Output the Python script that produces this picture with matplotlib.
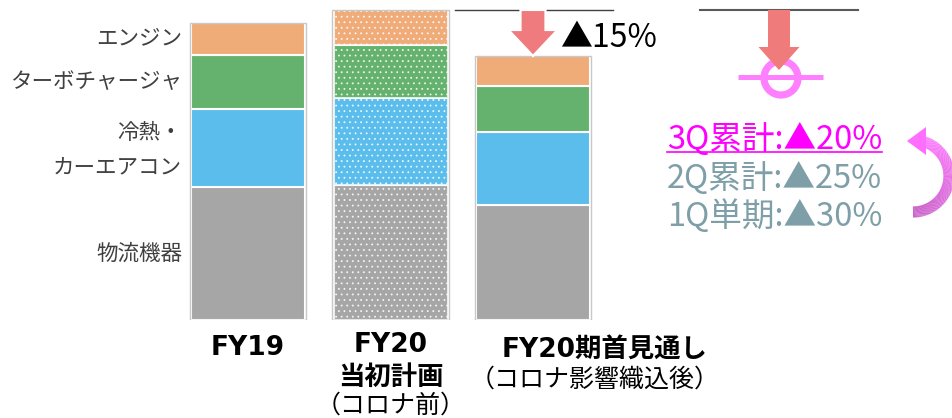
import matplotlib
matplotlib.use('Agg')
import matplotlib.pyplot as plt
from matplotlib.patches import Polygon, Circle
from matplotlib.collections import LineCollection
from matplotlib.colors import to_rgb
import numpy as np

plt.rcParams['font.family'] = ['Noto Sans CJK JP', 'DejaVu Sans']
plt.rcParams['hatch.linewidth'] = 0.6
LATIN_FIRST = ['DejaVu Sans', 'Noto Sans CJK JP']

# ---------------- data ----------------
categories = ['FY19', 'FY20 当初計画', 'FY20期首見通し']
segment_names = ['物流機器', '冷熱・\nカーエアコン', 'ターボチャージャ', 'エンジン']
logistics = [44.8, 45.5, 38.7]     # 物流機器
cooling = [26.3, 29.3, 24.6]       # 冷熱・カーエアコン
turbo = [18.2, 17.8, 15.5]         # ターボチャージャ
engine = [10.8, 11.8, 10.1]        # エンジン
seg_colors = ['#A6A6A6', '#5BBDEB', '#64B26E', '#F0AC78']
forecast_change = '▲15%'
progress_labels = ['3Q累計:▲20%', '2Q累計:▲25%', '1Q単期:▲30%']
progress_colors = ['#FF00FF', '#7F9FA8', '#7F9FA8']

# ---------------- figure ----------------
W, H = 952, 418
fig = plt.figure(figsize=(W / 100, H / 100), dpi=100)
ax = fig.add_axes([0, 98 / H, 1, 320 / H])
x = np.arange(len(categories))
px_per_cat = 142.5
x0px = 248
ax.set_xlim(-x0px / px_per_cat, (W - x0px) / px_per_cat)
ax.set_ylim(0, 320 / 2.97)
ax.axis('off')

series = [logistics, cooling, turbo, engine]
bottom = np.zeros(len(categories))
bottoms = []
for vals, col in zip(series, seg_colors):
    vals = np.array(vals)
    bars = ax.bar(x, vals, 0.8, bottom=bottom, color=col,
                  edgecolor='white', linewidth=1.5, zorder=2)
    bars[1].set_hatch('...')
    bars[1].set_edgecolor((1, 1, 1, 0.8))
    bottoms.append(bottom.copy())
    bottom = bottom + vals
totals = bottom
ax.bar(x, totals, 0.815, fill=False, edgecolor='#C8C8C8', linewidth=1.0, zorder=3)

# segment labels next to FY19 bar
xl = x[0] - 0.4 - 9 / px_per_cat
for name, vals, b in zip(segment_names, series, bottoms):
    mid = b[0] + vals[0] / 2
    lines = name.split('\n')
    n = len(lines)
    for i, ln in enumerate(lines):
        off = (-(i - (n - 1) / 2)) * 25.2 - (2.0 if n > 1 else 0)
        ax.annotate(ln, xy=(xl, mid), xytext=(0, off), textcoords='offset points',
                    ha='right', va='center', fontsize=15.5, color='#404040')

# category labels below bars
def lab(xi, dx, dy, txt, bold):
    ax.annotate(txt, xy=(xi, 0), xytext=(dx * 0.72, -dy * 0.72), textcoords='offset points',
                ha='center', va='center', fontsize=19 if bold else 18, color='black',
                family=LATIN_FIRST,
                fontweight='bold' if bold else 'normal', annotation_clip=False)

lab(0, 0, 28, 'FY19', True)
lab(1, 0, 25, 'FY20', True)
lab(1, 0, 58, '当初計画', True)
lab(1, 0, 86, '（コロナ前）', False)
lab(2, 72, 31, 'FY20期首見通し', True)
lab(2, 62, 60, '（コロナ影響織込後）', False)

# ---------------- overlay (pixel coords) ----------------
ov = fig.add_axes([0, 0, 1, 1], zorder=5)
ov.set_xlim(0, W)
ov.set_ylim(H, 0)
ov.axis('off')
ov.set_facecolor('none')

def d2p(xd, yd):
    disp = ax.transData.transform((xd, yd))
    return ov.transData.inverted().transform(disp)

plan_top = d2p(1, totals[1])[1]
fc_top = d2p(2, totals[2])[1]
bar2_x = d2p(2, 0)[0]

def down_arrow(cx, y0, y1, shaft_hw, head_hw, head_len):
    return [(cx - shaft_hw, y0), (cx + shaft_hw, y0), (cx + shaft_hw, y1 - head_len),
            (cx + head_hw, y1 - head_len), (cx, y1), (cx - head_hw, y1 - head_len),
            (cx - shaft_hw, y1 - head_len)]

# left reference line and arrow
ov.plot([455, 613], [plan_top, plan_top], color='#404040', lw=1.0)
ov.add_patch(Polygon(down_arrow(bar2_x, plan_top, fc_top, 12.5, 24.5, 26),
                     closed=True, facecolor='#F07B7F', edgecolor='white', lw=1.6, zorder=4))
ov.text(560, 38, forecast_change, ha='left', va='center', fontsize=23, color='black')

# right reference line, circle, arrow
ov.plot([700, 858], [plan_top, plan_top], color='#595959', lw=1.5)
ov.plot([738, 823], [77, 77], color='#FF80FF', lw=3.6, solid_capstyle='butt', zorder=2)
ov.add_patch(Circle((781, 78), 17, fill=False, edgecolor='#FF80FF', lw=5.2, zorder=2))
ov.add_patch(Polygon(down_arrow(779, plan_top, 70, 11, 20.5, 23),
                     closed=True, facecolor='#F07B7B', edgecolor='none', zorder=4))

# progress texts
ys = [140, 179, 216]
r = fig.canvas.get_renderer()
for txt, col, yy in zip(progress_labels, progress_colors, ys):
    t = ov.text(667, yy, txt, ha='left', va='center', fontsize=23.5, color=col)
    if col == '#FF00FF':
        bb = t.get_window_extent(renderer=r)
        x_end = ov.transData.inverted().transform((bb.x1, bb.y0))[0]
        ov.plot([667, x_end], [152, 152], color='#FF00FF', lw=1.2)

# curved arrow (gradient)
cxa, cya, rr = 913, 176, 36
t = np.radians(np.linspace(-90, 72, 120))
px = cxa + rr * np.cos(t)
py = cya - rr * np.sin(t)
pts = np.column_stack([px, py])
segs = np.stack([pts[:-1], pts[1:]], axis=1)
c0 = np.array(to_rgb('#C24EC2'))
c1 = np.array(to_rgb('#FF6EFF'))
fr = np.linspace(0, 1, len(segs))[:, None]
cols = c0 * (1 - fr) + c1 * fr
ov.add_collection(LineCollection(segs, colors=cols, linewidths=8, capstyle='butt'))
ov.add_patch(Polygon([(926, 127), (926, 155), (907, 141)], closed=True,
                     facecolor='#FF6EFF', edgecolor='none'))

fig.savefig('out.png', dpi=100)
